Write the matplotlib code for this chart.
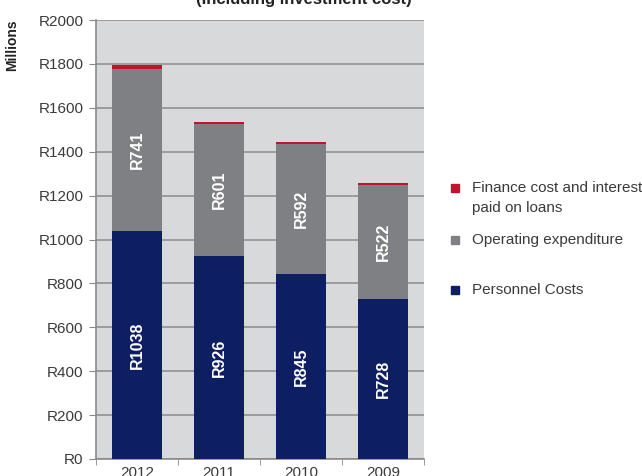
import numpy as np
import matplotlib
matplotlib.use("Agg")
import matplotlib.pyplot as plt
from matplotlib.patches import Rectangle

plt.rcParams['font.family'] = ['Liberation Sans', 'DejaVu Sans']

years = ['2012', '2011', '2010', '2009']
personnel = [1038, 926, 845, 728]
operating = [741, 601, 592, 522]
finance = [15, 10, 8, 6]

navy = '#0D1E63'
grey = '#7F8083'
red = '#C0132E'
txt = '#3A3A3A'

fig = plt.figure(figsize=(6.42, 4.76), dpi=100)
ax = fig.add_axes([96 / 642, 1 - 459 / 476, 328 / 642, 439 / 476])
ax.set_facecolor('#D8D9DB')

x = np.arange(len(years))
w = 0.61
ax.bar(x, personnel, w, color=navy, zorder=3)
ax.bar(x, operating, w, bottom=personnel, color=grey, zorder=3)
ax.bar(x, finance, w, bottom=np.add(personnel, operating), color=red, zorder=3)

for i in range(len(years)):
    ax.text(x[i], personnel[i] / 2, 'R%d' % personnel[i], rotation=90,
            ha='center', va='center', color='white', fontsize=11.5,
            fontweight='bold', zorder=4)
    ax.text(x[i], personnel[i] + operating[i] / 2, 'R%d' % operating[i],
            rotation=90, ha='center', va='center', color='white',
            fontsize=11.5, fontweight='bold', zorder=4)

ax.set_xlim(-0.5, len(years) - 0.5)
ax.set_ylim(0, 2000)
ax.set_yticks(range(0, 2001, 200))
ax.set_yticklabels(['R%d' % v for v in range(0, 2001, 200)])
ax.set_xticks(x)
ax.set_xticklabels(years)
ax.set_xticks(np.arange(-0.5, len(years)), minor=True)
ax.tick_params(axis='x', which='major', length=0, pad=5, labelsize=11,
               labelcolor=txt)
ax.tick_params(axis='x', which='minor', length=4, color='#8A8A8A')
ax.tick_params(axis='y', length=5, color='#8A8A8A', labelsize=11,
               labelcolor=txt, pad=4)
ax.grid(axis='y', color='#8C8C8C', linewidth=1.1, zorder=1)
for s in ['top', 'right']:
    ax.spines[s].set_visible(False)
for s in ['left', 'bottom']:
    ax.spines[s].set_color('#8A8A8A')
    ax.spines[s].set_linewidth(1.2)

fig.text(12 / 642, 1 - 45 / 476, 'Millions', rotation=90, ha='center',
         va='center', fontsize=10, fontweight='bold', color='#222222')
fig.text(304 / 642, 1 - 4 / 476, '(Including investment cost)', ha='center',
         va='baseline', fontsize=12, fontweight='bold', color='#222222')

# legend drawn by hand
entries = [(red, 'Finance cost and interest', 188),
           (grey, 'Operating expenditure', 240),
           (navy, 'Personnel Costs', 290)]
sq = 8
for col, lab, yy in entries:
    fig.add_artist(Rectangle(((455 - sq / 2) / 642, 1 - (yy + sq / 2) / 476),
                             sq / 642, sq / 476, color=col,
                             transform=fig.transFigure))
    fig.text(472 / 642, 1 - yy / 476, lab, ha='left', va='center',
             fontsize=11, color=txt)
fig.text(472 / 642, 1 - 208 / 476, 'paid on loans', ha='left', va='center',
         fontsize=11, color=txt)

fig.savefig('out.png', dpi=100)
